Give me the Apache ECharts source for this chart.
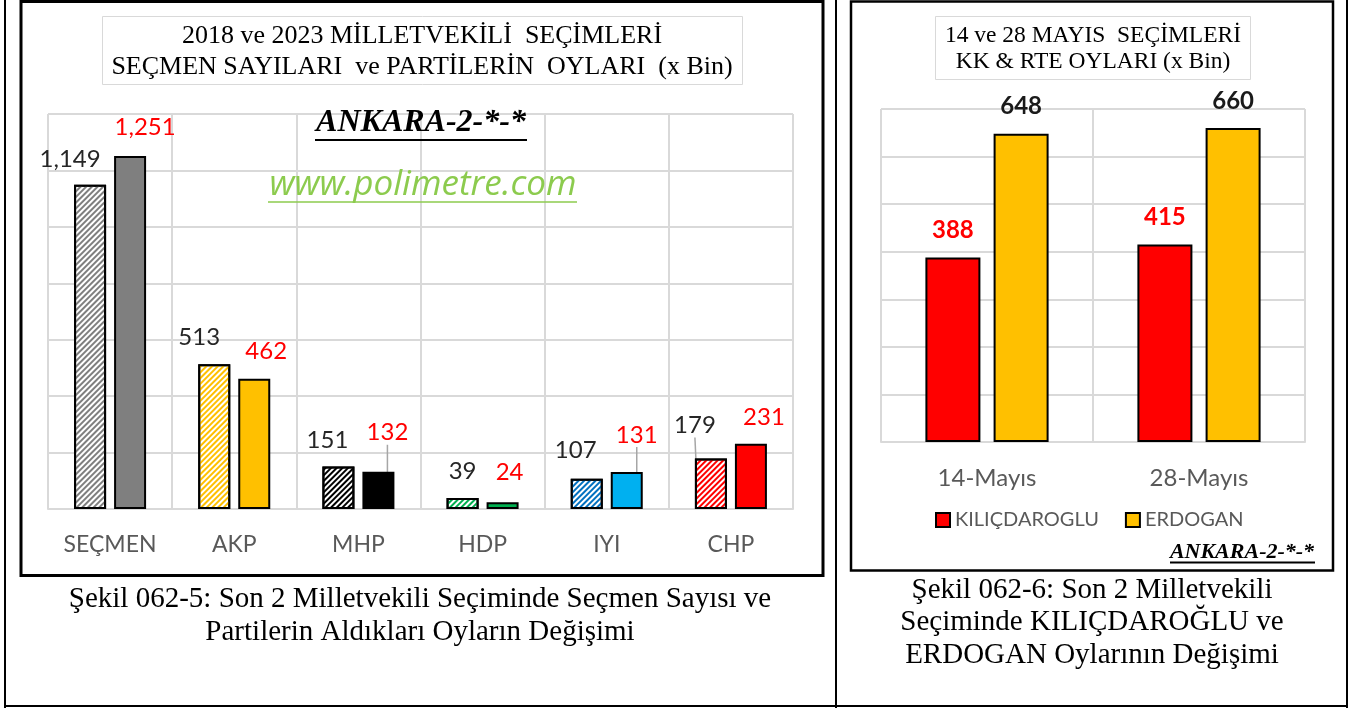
<!DOCTYPE html>
<html><head><meta charset="utf-8">
<script src="https://cdn.jsdelivr.net/npm/echarts@6/dist/echarts.min.js"></script>
<style>html,body{margin:0;padding:0;background:#fff;}#c{width:1353px;height:708px;}</style>
</head><body><div id="c"></div>
<script>
// ---------- DATA ----------
const partyCategories = ['SEÇMEN', 'AKP', 'MHP', 'HDP', 'IYI', 'CHP'];
const votes2018 = [1149, 513, 151, 39, 107, 179];
const votes2023 = [1251, 462, 132, 24, 131, 231];

const roundCategories = ['14-Mayıs', '28-Mayıs'];
const roundSeriesNames = ['KILIÇDAROGLU', 'ERDOGAN'];
const kkVotes = [388, 415];
const rteVotes = [648, 660];

const leftTitle = '2018 ve 2023 MİLLETVEKİLİ  SEÇİMLERİ\nSEÇMEN SAYILARI  ve PARTİLERİN  OYLARI  (x Bin)';
const rightTitle = '14 ve 28 MAYIS  SEÇİMLERİ\nKK & RTE OYLARI (x Bin)';
const leftCaption = 'Şekil 062-5: Son 2 Milletvekili Seçiminde Seçmen Sayısı ve\nPartilerin Aldıkları Oyların Değişimi';
const rightCaption = 'Şekil 062-6: Son 2 Milletvekili\nSeçiminde KILIÇDAROĞLU ve\nERDOGAN Oylarının Değişimi';
const stamp = 'ANKARA-2-*-*';
const site = 'www.polimetre.com';

// ---------- STYLE ----------
const solidColors = ['#7F7F7F', '#FFC000', '#000000', '#00B050', '#00B0F0', '#FF0000'];
const hatchColors = ['#7F7F7F', '#FFC000', '#000000', '#00B050', '#0070C0', '#FF0000'];
const offs2018 = [[-20, -9], [-15, -10], [-11, -9], [0, -10], [-11, -12], [-16, -16]];
const offs2023 = [[15, -12], [12, -10], [9, -22], [7, -13], [10, -20], [13, -10]];
const leader2018 = [false, false, false, false, false, true];
const leader2023 = [false, false, true, false, true, false];

const sans = 'Lato, "Open Sans", sans-serif';
const serif = '"Liberation Serif", "Times New Roman", serif';
const gridGray = '#D9D9D9';
const fmt = v => Number(v).toLocaleString('en-US');
const leaderStyle = { show: true, lineStyle: { color: '#A6A6A6', width: 1.5 } };

const chart = echarts.init(document.getElementById('c'), null, { renderer: 'canvas' });

function catAxis(gridIndex, data, margin, fontSize) {
  return {
    type: 'category', gridIndex, data,
    axisLine: { lineStyle: { color: gridGray, width: 2 } },
    axisTick: { show: false },
    axisLabel: { color: '#595959', fontSize, fontFamily: sans, margin },
    splitLine: { show: true, interval: 0, lineStyle: { color: gridGray, width: 2 } }
  };
}
function valAxis(gridIndex, max, interval) {
  return {
    type: 'value', gridIndex, min: 0, max, interval,
    axisLabel: { show: false }, axisLine: { show: false }, axisTick: { show: false },
    splitLine: { lineStyle: { color: gridGray, width: 2 } }
  };
}

const option = {
  animation: false,
  backgroundColor: '#fff',
  grid: [
    { left: 48, top: 114, width: 745, height: 395 },
    { left: 881, top: 109, width: 424, height: 333 }
  ],
  xAxis: [catAxis(0, partyCategories, 24, 23), catAxis(1, roundCategories, 24, 24)],
  yAxis: [valAxis(0, 1400, 200), valAxis(1, 700, 100)],
  legend: {
    data: roundSeriesNames, left: 930, top: 505, itemWidth: 14, itemHeight: 14, itemGap: 26,
    icon: 'rect', textStyle: { color: '#595959', fontSize: 20, fontFamily: sans }
  },
  series: [
    {
      name: '2018', type: 'bar', xAxisIndex: 0, yAxisIndex: 0, barWidth: 32, barGap: '25%',
      itemStyle: { borderColor: '#000', borderWidth: 2 },
      data: votes2018.map((v, i) => ({
        value: v,
        itemStyle: {
          color: '#fff',
          decal: { symbol: 'rect', symbolSize: 1, dashArrayX: [1, 0], dashArrayY: [2, 2], rotation: -Math.PI / 4, color: hatchColors[i] }
        },
        labelLine: leader2018[i] ? leaderStyle : { show: false }
      })),
      label: { show: true, position: 'top', distance: 5, color: '#262626', fontSize: 24, fontFamily: sans, formatter: p => fmt(p.value) },
      labelLayout: p => ({ dx: offs2018[p.dataIndex][0], dy: offs2018[p.dataIndex][1] })
    },
    {
      name: '2023', type: 'bar', xAxisIndex: 0, yAxisIndex: 0, barWidth: 32, barGap: '25%',
      itemStyle: { borderColor: '#000', borderWidth: 2 },
      data: votes2023.map((v, i) => ({
        value: v,
        itemStyle: { color: solidColors[i] },
        labelLine: leader2023[i] ? leaderStyle : { show: false }
      })),
      label: { show: true, position: 'top', distance: 5, color: '#FF0000', fontSize: 24, fontFamily: sans, formatter: p => fmt(p.value) },
      labelLayout: p => ({ dx: offs2023[p.dataIndex][0], dy: offs2023[p.dataIndex][1] })
    },
    {
      name: roundSeriesNames[0], type: 'bar', xAxisIndex: 1, yAxisIndex: 1, barWidth: 55, barGap: '24%',
      itemStyle: { color: '#FF0000', borderColor: '#000', borderWidth: 2 },
      data: kkVotes,
      label: { show: true, position: 'top', distance: 15, color: '#FF0000', fontWeight: 'bold', fontSize: 24, fontFamily: sans }
    },
    {
      name: roundSeriesNames[1], type: 'bar', xAxisIndex: 1, yAxisIndex: 1, barWidth: 55, barGap: '24%',
      itemStyle: { color: '#FFC000', borderColor: '#000', borderWidth: 2 },
      data: rteVotes,
      label: { show: true, position: 'top', distance: 15, color: '#1A1A1A', fontWeight: 'bold', fontSize: 24, fontFamily: sans }
    }
  ],
  graphic: [
    // page frame
    { type: 'line', shape: { x1: 5, y1: 0, x2: 5, y2: 708 }, style: { stroke: '#000', lineWidth: 2 } },
    { type: 'line', shape: { x1: 1347, y1: 0, x2: 1347, y2: 708 }, style: { stroke: '#000', lineWidth: 2 } },
    { type: 'line', shape: { x1: 836, y1: 0, x2: 836, y2: 708 }, style: { stroke: '#000', lineWidth: 2 } },
    { type: 'line', shape: { x1: 4, y1: 706, x2: 1348, y2: 706 }, style: { stroke: '#000', lineWidth: 2 } },
    // chart boxes
    { type: 'rect', shape: { x: 21, y: 1.5, width: 802, height: 574 }, style: { fill: null, stroke: '#000', lineWidth: 3 } },
    { type: 'rect', shape: { x: 851, y: 1.5, width: 482, height: 569 }, style: { fill: null, stroke: '#000', lineWidth: 2.5 } },
    // title boxes
    { type: 'rect', shape: { x: 102.5, y: 16.5, width: 640, height: 68 }, style: { fill: '#fff', stroke: gridGray, lineWidth: 1 } },
    { type: 'text', x: 422, y: 51.5, style: { text: leftTitle, align: 'center', verticalAlign: 'middle', fontFamily: serif, fontSize: 26, lineHeight: 31, fill: '#000' } },
    { type: 'rect', shape: { x: 935.5, y: 16.5, width: 315, height: 63 }, style: { fill: '#fff', stroke: gridGray, lineWidth: 1 } },
    { type: 'text', x: 1093, y: 49, style: { text: rightTitle, align: 'center', verticalAlign: 'middle', fontFamily: serif, fontSize: 23.5, lineHeight: 26, fill: '#000' } },
    // stamps
    { type: 'text', z: 100, x: 421, y: 123, style: { text: stamp, align: 'center', verticalAlign: 'middle', fontFamily: serif, fontSize: 32, fontWeight: 'bold', fontStyle: 'italic', fill: '#000' } },
    { type: 'line', z: 100, shape: { x1: 315, y1: 140, x2: 527, y2: 140 }, style: { stroke: '#000', lineWidth: 2 } },
    { type: 'text', z: 100, x: 423, y: 185, style: { text: site, align: 'center', verticalAlign: 'middle', fontFamily: '"Open Sans", Lato, sans-serif', fontSize: 35, fontStyle: 'italic', fill: '#8CCB4E' } },
    { type: 'line', z: 100, shape: { x1: 268, y1: 202, x2: 577, y2: 202 }, style: { stroke: '#8CCB4E', lineWidth: 1.5 } },
    { type: 'text', z: 100, x: 1242, y: 552, style: { text: stamp, align: 'center', verticalAlign: 'middle', fontFamily: serif, fontSize: 22, fontWeight: 'bold', fontStyle: 'italic', fill: '#000' } },
    { type: 'line', z: 100, shape: { x1: 1170, y1: 562.5, x2: 1315, y2: 562.5 }, style: { stroke: '#000', lineWidth: 2 } },
    // captions
    { type: 'text', x: 420, y: 615.5, style: { text: leftCaption, align: 'center', verticalAlign: 'middle', fontFamily: serif, fontSize: 29, lineHeight: 33, fill: '#000' } },
    { type: 'text', x: 1092, y: 622.5, style: { text: rightCaption, align: 'center', verticalAlign: 'middle', fontFamily: serif, fontSize: 29, lineHeight: 32.5, fill: '#000' } }
  ]
};
chart.setOption(option);
</script>
</body></html>
